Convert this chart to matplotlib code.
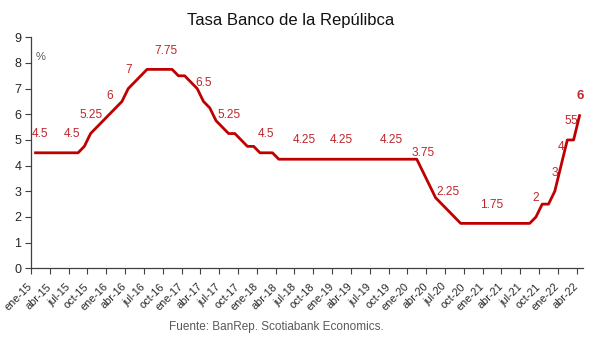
import matplotlib
matplotlib.use("Agg")
import matplotlib.pyplot as plt
from matplotlib.transforms import ScaledTranslation
import numpy as np

plt.rcParams['font.family'] = ['Liberation Sans', 'DejaVu Sans']

# Monthly policy rate (%), Jan-2015 .. Apr-2022
rate_2015 = [4.5, 4.5, 4.5, 4.5, 4.5, 4.5, 4.5, 4.5, 4.75, 5.25, 5.5, 5.75]
rate_2016 = [6.0, 6.25, 6.5, 7.0, 7.25, 7.5, 7.75, 7.75, 7.75, 7.75, 7.75, 7.5]
rate_2017 = [7.5, 7.25, 7.0, 6.5, 6.25, 5.75, 5.5, 5.25, 5.25, 5.0, 4.75, 4.75]
rate_2018 = [4.5, 4.5, 4.5, 4.25, 4.25, 4.25, 4.25, 4.25, 4.25, 4.25, 4.25, 4.25]
rate_2019 = [4.25, 4.25, 4.25, 4.25, 4.25, 4.25, 4.25, 4.25, 4.25, 4.25, 4.25, 4.25]
rate_2020 = [4.25, 4.25, 3.75, 3.25, 2.75, 2.5, 2.25, 2.0, 1.75, 1.75, 1.75, 1.75]
rate_2021 = [1.75, 1.75, 1.75, 1.75, 1.75, 1.75, 1.75, 1.75, 2.0, 2.5, 2.5, 3.0]
rate_2022 = [4.0, 5.0, 5.0, 6.0]

month_abbr = ["ene", "feb", "mar", "abr", "may", "jun",
              "jul", "ago", "sep", "oct", "nov", "dic"]
years = ["15", "16", "17", "18", "19", "20", "21", "22"]

tick_labels = ["ene-15", "abr-15", "jul-15", "oct-15",
               "ene-16", "abr-16", "jul-16", "oct-16",
               "ene-17", "abr-17", "jul-17", "oct-17",
               "ene-18", "abr-18", "jul-18", "oct-18",
               "ene-19", "abr-19", "jul-19", "oct-19",
               "ene-20", "abr-20", "jul-20", "oct-20",
               "ene-21", "abr-21", "jul-21", "oct-21",
               "ene-22", "abr-22"]

# Points that carry a value label
labeled_months = ["ene-15", "jul-15", "oct-15", "ene-16", "abr-16", "oct-16",
                  "abr-17", "ago-17", "feb-18", "ago-18", "feb-19", "oct-19",
                  "mar-20", "jul-20", "feb-21", "sep-21", "dic-21", "ene-22",
                  "feb-22", "mar-22", "abr-22"]

rate = (rate_2015 + rate_2016 + rate_2017 + rate_2018 +
        rate_2019 + rate_2020 + rate_2021 + rate_2022)
month_names = [f"{m}-{y}" for y in years for m in month_abbr][:len(rate)]
x = np.arange(len(rate))

RED = "#C00000"
LABEL_RED = "#C0262C"
GRAY = "#595959"
AXIS = "#404040"

W, H = 600, 340
fig = plt.figure(figsize=(W / 100, H / 100), dpi=100)
ax = fig.add_axes([31 / W, 1 - 268.3 / H, (583 - 31) / W, (268.3 - 37.3) / H])

ax.plot(x, rate, color=RED, lw=2.0, solid_joinstyle="round",
        solid_capstyle="butt")

ax.set_xlim(-0.5, len(rate) - 0.5)
ax.set_ylim(0, 9)

tick_pos = np.arange(len(tick_labels)) * 3 - 0.5
ax.set_xticks(tick_pos)
ax.set_xticklabels(tick_labels, rotation=45, ha="right", va="center",
                   rotation_mode="anchor", fontsize=7.8, color="#262626")
shift = ScaledTranslation(2 / 100, 0, fig.dpi_scale_trans)
for lab in ax.get_xticklabels():
    lab.set_transform(lab.get_transform() + shift)
ax.set_yticks(range(10))
ax.set_yticklabels([str(v) for v in range(10)], fontsize=9, color="#262626")

ax.tick_params(axis="x", length=4, width=0.8, color=AXIS, pad=8)
ax.tick_params(axis="y", length=4, width=0.8, color=AXIS, pad=3)
for side in ("top", "right"):
    ax.spines[side].set_visible(False)
for side in ("left", "bottom"):
    ax.spines[side].set_color(AXIS)
    ax.spines[side].set_linewidth(0.9)

# Value labels above the line
for name in labeled_months:
    i = month_names.index(name)
    v = rate[i]
    last = i == len(rate) - 1
    dx = 4.5 if i == 0 else 0
    ax.annotate(f"{v:g}", (x[i], v), xytext=(dx, 13.5),
                textcoords="offset points", ha="center", va="center",
                fontsize=9.5 if last else 8.6, color=LABEL_RED,
                fontweight="bold" if last else "normal")

fig.text(41 / W, 1 - 57 / H, "%", color=GRAY, fontsize=8,
         ha="center", va="center")
fig.text(291 / W, 1 - 20 / H, "Tasa Banco de la Repúlibca",
         ha="center", va="center", fontsize=12, color="#111111")
fig.text(276 / W, 1 - 327 / H, "Fuente: BanRep. Scotiabank Economics.",
         ha="center", va="center", fontsize=8.5, color=GRAY)

fig.savefig("out.png", dpi=100)
